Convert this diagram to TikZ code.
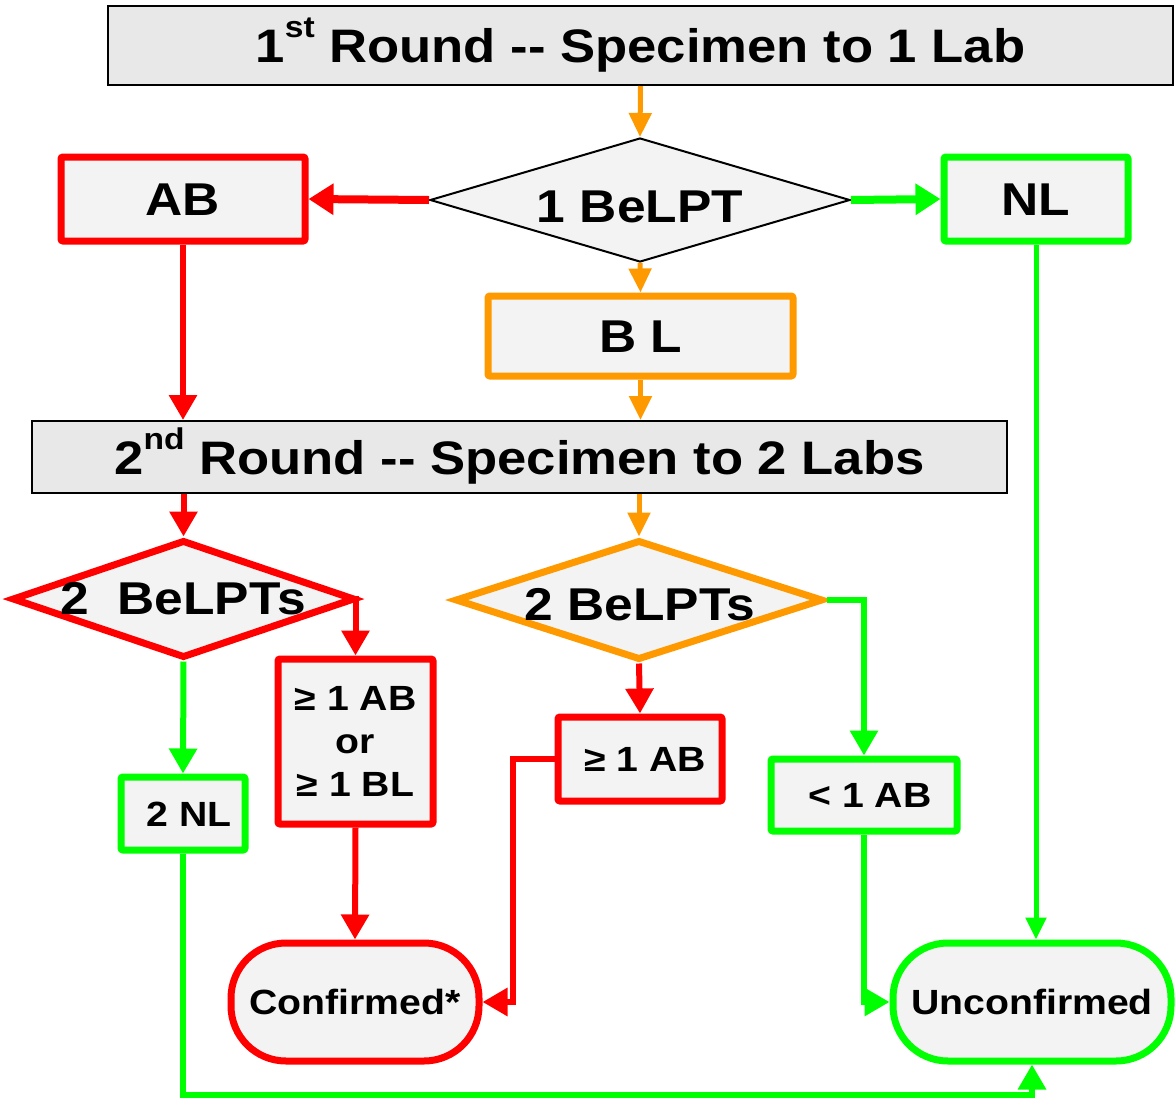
\documentclass[tikz,border=0pt]{standalone}
\usepackage{fontspec}
\setmainfont{Liberation Sans}[FakeStretch=1.12]
\usetikzlibrary{shapes.geometric,arrows.meta}
\definecolor{cred}{RGB}{255,0,0}
\definecolor{cgreen}{RGB}{0,255,0}
\definecolor{corange}{RGB}{255,153,0}
\definecolor{cfill}{RGB}{243,243,243}
\definecolor{cfilltop}{RGB}{232,232,232}
\newcommand{\supx}[1]{\raisebox{25pt}{\fontsize{30}{30}\selectfont #1}}
\begin{document}
\begin{tikzpicture}[x=1pt,y=-1pt,
  bigbox/.style={draw=black,line width=2pt,fill=cfilltop,inner sep=0pt,font=\bfseries\fontsize{47}{52}\selectfont,text height=34pt,text depth=0pt},
  cbox/.style={line width=7pt,fill=cfill,inner sep=0pt,rounded corners=2pt},
  lbl/.style={font=\bfseries\fontsize{46}{50}\selectfont,text height=33pt,text depth=0pt},
  sml/.style={font=\bfseries\fontsize{35}{43}\selectfont,text height=25pt,text depth=0pt},
  stad/.style={line width=7pt,fill=cfill,inner sep=0pt,rounded corners=55pt},
  diam/.style={diamond,fill=cfill,inner sep=0pt},
  txt/.style={inner sep=0pt},
  conn/.style={line width=6pt,-{Triangle[length=25pt,width=27pt]}},
  thickconn/.style={line width=8pt,-{Triangle[length=25pt,width=30pt]}},
  oconn/.style={corange,line width=5pt,-{Triangle[length=24pt,width=22pt]}},
  thinconn/.style={line width=5pt,-{Triangle[length=22pt,width=20pt]}}
]
\useasboundingbox (0,0) rectangle (1176,1101);

% boxes
\node[bigbox,minimum width=1065pt,minimum height=79pt] (t1) at (640.5,45.5) {1\supx{st} Round -\kern0pt- Specimen to 1 Lab};
\node[diam,draw=black,line width=2pt,minimum width=420pt,minimum height=124pt] (d1) at (640,200) {};
\node[txt,lbl] (d1t) at (640,205.5) {1 BeLPT};
\node[cbox,draw=cred,lbl,minimum width=244pt,minimum height=84pt] (ab) at (183,199) {AB};
\node[cbox,draw=cgreen,lbl,minimum width=184pt,minimum height=84pt] (nl) at (1036,199) {NL};
\node[cbox,draw=corange,lbl,minimum width=305pt,minimum height=80pt] (bl) at (640.5,336) {B L};
\node[bigbox,minimum width=975pt,minimum height=72pt] (t2) at (519.5,457) {2\supx{nd} Round -\kern0pt- Specimen to 2 Labs};

\node[diam,draw=cred,line width=7pt,minimum width=343pt,minimum height=118pt] (d2) at (183.5,599) {};
\node[txt,lbl] (d2t) at (183,597.5) {2\ \ BeLPTs};
\node[diam,draw=corange,line width=7pt,minimum width=368pt,minimum height=120pt] (d3) at (639,600) {};
\node[txt,lbl] (d3t) at (640,603.5) {2 BeLPTs};

\node[cbox,draw=cred,font=\bfseries\fontsize{35}{43}\selectfont,align=center,minimum width=155pt,minimum height=165pt] (ge2) at (355.5,741.5) {≥ 1 AB\\or\\≥ 1 BL};
\node[cbox,draw=cgreen,sml,minimum width=124pt,minimum height=73pt] (nl2) at (183,813.5) {\hspace{12pt}2 NL};
\node[cbox,draw=cred,sml,minimum width=164pt,minimum height=84pt] (ge1) at (640,759) {\hspace{10pt}≥ 1 AB};
\node[cbox,draw=cgreen,sml,minimum width=186pt,minimum height=72pt] (lt1) at (864,795) {\hspace{12pt}< 1 AB};

\node[stad,draw=cred,sml,minimum width=248pt,minimum height=118pt] (conf) at (355,1002) {Confirmed*};
\node[stad,draw=cgreen,sml,minimum width=278pt,minimum height=118pt] (unc) at (1032,1002) {Unconfirmed};

\coordinate (c1) at (513,0);
\coordinate (c2) at (0,1095);

% connectors
\draw[oconn] (t1.south) -- (d1.north);
\draw[thickconn,cred] (d1.west) -- (ab.east);
\draw[thickconn,cgreen] (d1.east) -- (nl.west);
\draw[oconn] (d1.south) -- (bl.north);
\draw[oconn] (bl.south) -- (bl.south |- t2.north);
\draw[conn,cred] (ab.south) -- (ab.south |- t2.north);
\draw[thinconn,cgreen] (nl.south) -- (nl.south |- unc.north);
\draw[conn,cred] (d2.north |- t2.south) -- (d2.north);
\draw[oconn] (d3.north |- t2.south) -- (d3.north);
\draw[conn,cred] (d2.east) -| (ge2.north);
\draw[conn,cgreen] (d2.south) -- (nl2.north);
\draw[conn,cred] (ge2.south) -- (conf.north);
\draw[conn,cred] (d3.south) -- (ge1.north);
\draw[conn,cred] (ge1.west) -- (ge1.west -| c1) |- (conf.east);
\draw[conn,cgreen] (d3.east) -| (lt1.north);
\draw[conn,cgreen] (lt1.south) |- (unc.west);
\draw[conn,cgreen] (nl2.south) -- (nl2.south |- c2) -| (unc.south);
\end{tikzpicture}
\end{document}
